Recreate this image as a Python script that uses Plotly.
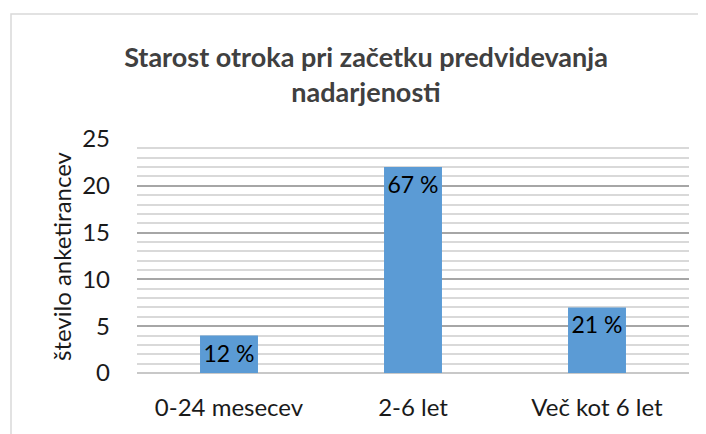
import plotly.graph_objects as go

categories = ["0-24 mesecev", "2-6 let", "Več kot 6 let"]
values = [4, 22, 7]
labels = ["12 %", "67 %", "21 %"]
title_text = "Starost otroka pri začetku predvidevanja<br>nadarjenosti"
y_title = "število anketirancev"

# page body has an 8px margin; lay the figure out in its own coordinates
OFF = 8
W, H = 706 - OFF, 434 - OFF
L, R = 137 - OFF, W - (689 - OFF)
T, B = 139 - OFF, H - (373 - OFF)
pw, ph = W - L - R, H - T - B

def px_x(x):
    return (x - OFF - L) / pw

def px_y(y):
    return (H - B - (y - OFF)) / ph

FONT = "Lato, 'Open Sans', sans-serif"

fig = go.Figure(go.Bar(
    x=categories, y=values, text=labels,
    textposition="inside", insidetextanchor="end", textangle=0,
    textfont=dict(color="#000000", size=23, family=FONT),
    constraintext="none",
    marker=dict(color="#5b9bd5", line=dict(width=0)),
    width=0.315,
))

fig.update_layout(
    width=W, height=H,
    margin=dict(l=L, r=R, t=T, b=B),
    paper_bgcolor="white", plot_bgcolor="white",
    font=dict(family=FONT, color="#1a1a1a"),
    showlegend=False,
    title=dict(text="<b>" + title_text + "</b>", x=(366 - OFF) / W, xanchor="center",
               y=1 - (67 - OFF) / H, yanchor="middle", yref="container",
               font=dict(size=27, color="#404040", family=FONT)),
    xaxis=dict(showgrid=False, showline=False, ticks="", tickfont=dict(size=24, color="#1a1a1a"),
               ticklabelstandoff=18),
    yaxis=dict(range=[0, 25], dtick=5, tick0=0, showline=False, ticks="",
               gridcolor="#a6a6a6", gridwidth=1.5,
               zeroline=True, zerolinecolor="#c8c8c8", zerolinewidth=1.5,
               tickfont=dict(size=24, color="#1a1a1a"), ticklabelstandoff=26,
               minor=dict(dtick=1, tick0=0, showgrid=True, gridcolor="#d9d9d9", gridwidth=1.5)),
    annotations=[dict(text=y_title, textangle=-90, xref="paper", yref="paper",
                      x=px_x(61), y=px_y(256), xanchor="center", yanchor="middle",
                      showarrow=False, font=dict(size=24, color="#1a1a1a", family=FONT))],
    shapes=[dict(type="rect", xref="paper", yref="paper",
                 x0=px_x(11), x1=px_x(705.5), y0=px_y(14), y1=px_y(450),
                 line=dict(color="#d9d9d9", width=1.5), fillcolor="rgba(0,0,0,0)", layer="below")],
)

fig.write_html("out.html")
